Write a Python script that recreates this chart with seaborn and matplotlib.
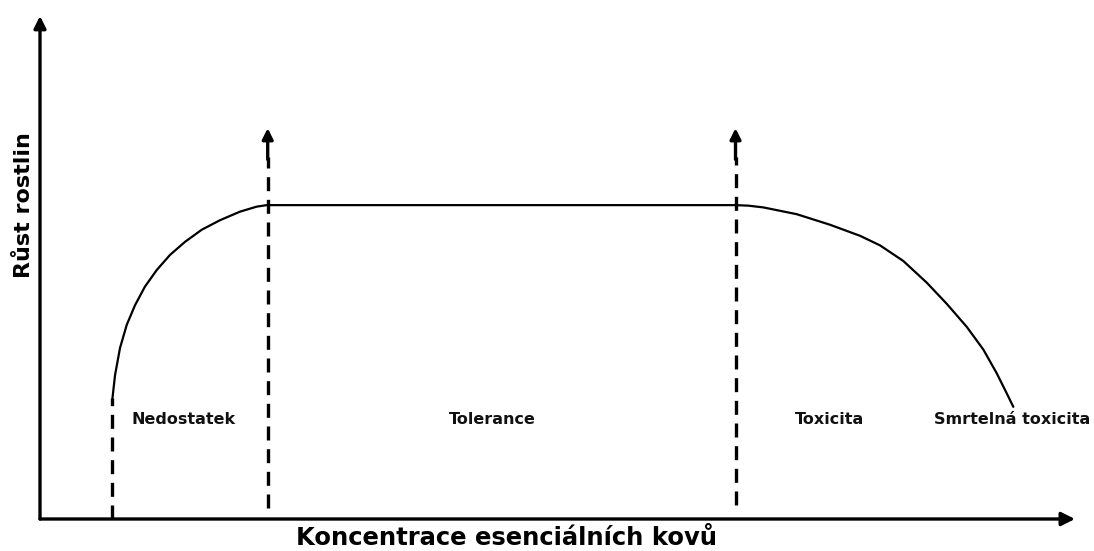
import matplotlib
matplotlib.use("Agg")
import matplotlib.pyplot as plt
import seaborn as sns
import pandas as pd

sns.set_style("white")
plt.rcParams['font.family'] = ['DejaVu Sans']

# growth curve (concentration, growth), arbitrary units 0-100
conc = [7.0, 7.25, 7.73, 8.38, 9.18, 10.14, 11.28, 12.56, 14.01, 15.62, 17.39,
        19.32, 20.94, 21.9,
        67.15, 68.4, 69.88, 73.11, 76.33, 79.23, 81.16, 83.41, 85.67, 87.6,
        89.54, 91.14, 92.43, 93.4, 94.04]
growth = [24.0, 28.6, 34.0, 38.6, 42.5, 46.2, 49.5, 52.5, 55.1, 57.5, 59.4,
          61.1, 62.1, 62.4,
          62.4, 62.3, 61.95, 60.6, 58.5, 56.3, 54.4, 51.3, 47.0, 42.8,
          38.2, 33.7, 29.0, 25.0, 22.3]

# zone borders (dashed lines) and zone labels
borders = [7.0, 22.0, 67.2]
border_bottom = [0.0, 2.2, 2.8]
border_top = [24.0, 72.0, 72.0]
border_arrow = [False, True, True]
arrow_tip = 77.7

zones = ["Nedostatek", "Tolerance", "Toxicita", "Smrtelná toxicita"]
zone_x = [13.9, 43.7, 76.3, 93.9]
zone_y = 19.7

df = pd.DataFrame({"conc": conc, "growth": growth})

fig = plt.figure(figsize=(10.94, 5.51), dpi=100)
ax = fig.add_axes([40 / 1094, 32 / 551, 1035 / 1094, 503 / 551])
ax.set_xlim(0, 100)
ax.set_ylim(0, 100)
ax.axis("off")

sns.lineplot(data=df, x="conc", y="growth", sort=False, estimator=None,
             color="black", linewidth=1.6, ax=ax)

for x, y0, y1, arr in zip(borders, border_bottom, border_top, border_arrow):
    ax.plot([x, x], [y0, y1], color="black", linewidth=2.4,
            linestyle=(0, (4.2, 2.6)), dash_capstyle="butt")
    if arr:
        ax.annotate("", xy=(x, arrow_tip), xytext=(x, y1 - 0.5),
                    arrowprops=dict(arrowstyle="-|>", color="black", lw=2.4,
                                    mutation_scale=16, shrinkA=0, shrinkB=0))

# axes with arrows
ax.annotate("", xy=(100, 0), xytext=(0, 0),
            arrowprops=dict(arrowstyle="-|>", color="black", lw=2.4,
                            mutation_scale=20, shrinkA=0, shrinkB=0),
            annotation_clip=False)
ax.annotate("", xy=(0, 100), xytext=(0, 0),
            arrowprops=dict(arrowstyle="-|>", color="black", lw=2.4,
                            mutation_scale=18, shrinkA=0, shrinkB=0),
            annotation_clip=False)

for name, x in zip(zones, zone_x):
    ax.text(x, zone_y, name, ha="center", va="center", fontsize=11.5,
            fontweight="bold", color="#111111")

fig.text(506 / 1094, 1 - 538 / 551, "Koncentrace esenciálních kovů", ha="center",
         va="center", fontsize=17.5, fontweight="bold", color="black")
fig.text(24 / 1094, 1 - 205 / 551, "Růst rostlin", ha="center", va="center",
         rotation=90, fontsize=16, fontweight="bold", color="black")

fig.savefig("out.png", dpi=100, facecolor="white")
